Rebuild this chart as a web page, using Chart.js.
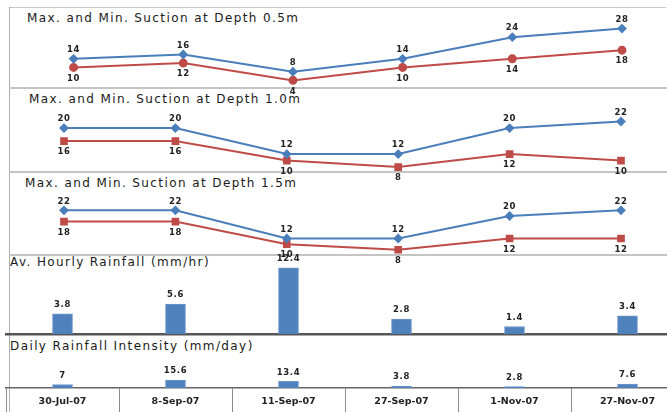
<!DOCTYPE html>
<html>
<head>
<meta charset="utf-8">
<script src="https://cdn.jsdelivr.net/npm/chart.js@4.4.1/dist/chart.umd.min.js"></script>
<style>
    html, body { margin: 0; padding: 0; background: #fff; }
    #wrap { position: relative; width: 667px; height: 412px; overflow: hidden; }
    #wrap canvas { position: absolute; left: 0; top: 0; }
    .line { position: absolute; }
    .title { position: absolute; font-family: "DejaVu Sans", sans-serif; font-size: 12px; line-height: 14px; letter-spacing: 1.4px; color: #1a1a1a; white-space: nowrap; }
</style>
</head>
<body>
<div id="wrap">
    <div class="line" style="left:9px;top:7px;width:657px;height:1px;background:#c8c8c8"></div>
    <div class="line" style="left:9px;top:7px;width:1px;height:405px;background:#b0b0b0"></div>
    <div class="line" style="left:9px;top:87px;width:658px;height:2px;background:#c4c4c4"></div>
    <div class="line" style="left:9px;top:171px;width:658px;height:2px;background:#c4c4c4"></div>
    <div class="line" style="left:9px;top:254px;width:658px;height:2px;background:#c4c4c4"></div>

    <div class="title" style="left:27px;top:11px">Max. and Min. Suction at Depth 0.5m</div>
    <div class="title" style="left:29px;top:92px">Max. and Min. Suction at Depth 1.0m</div>
    <div class="title" style="left:25px;top:176px">Max. and Min. Suction at Depth 1.5m</div>
    <div class="title" style="left:10px;top:255px">Av. Hourly Rainfall (mm/hr)</div>
    <div class="title" style="left:10px;top:339px">Daily Rainfall Intensity (mm/day)</div>

    <canvas id="depth05" width="700" height="412"></canvas>
    <canvas id="depth10" width="700" height="412"></canvas>
    <canvas id="depth15" width="700" height="412"></canvas>
    <canvas id="hourly" width="700" height="412"></canvas>
    <canvas id="daily" width="700" height="412"></canvas>
</div>
<script>
    var dates = ['30-Jul-07', '8-Sep-07', '11-Sep-07', '27-Sep-07', '1-Nov-07', '27-Nov-07'];

    var maxSuction05 = [14, 16, 8, 14, 24, 28];
    var minSuction05 = [10, 12, 4, 10, 14, 18];
    var maxSuction10 = [20, 20, 12, 12, 20, 22];
    var minSuction10 = [16, 16, 10, 8, 12, 10];
    var maxSuction15 = [22, 22, 12, 12, 20, 22];
    var minSuction15 = [18, 18, 10, 8, 12, 12];

    var hourlyRain = [3.8, 5.6, 12.4, 2.8, 1.4, 3.4];
    var dailyRain = [7, 15.6, 13.4, 3.8, 2.8, 7.6];

    var BLUE = '#4a7ebb';
    var RED = '#be4b48';
    var H = 412, W = 700;

    // draws the value of every point next to it
    var valueLabels = {
        id: 'valueLabels',
        afterDatasetsDraw: function (chart) {
            var ctx = chart.ctx;
            chart.data.datasets.forEach(function (ds, i) {
                var meta = chart.getDatasetMeta(i);
                var dy = ds.labelPos === 'below' ? 11 : -9;
                ctx.save();
                ctx.font = 'bold 8.5px "DejaVu Sans"';
                ctx.letterSpacing = '0.6px';
                ctx.fillStyle = '#222';
                ctx.textAlign = 'center';
                ctx.textBaseline = 'middle';
                meta.data.forEach(function (el, j) {
                    ctx.fillText(ds.data[j], el.x, el.y + dy);
                });
                ctx.restore();
            });
        }
    };

    function suctionChart(id, maxData, minData, minStyle, area, yMin, yMax) {
        return new Chart(document.getElementById(id), {
            type: 'line',
            data: {
                labels: dates,
                datasets: [{
                    data: maxData,
                    borderColor: BLUE,
                    backgroundColor: BLUE,
                    borderWidth: 2,
                    pointStyle: 'rectRot',
                    pointRadius: 3.5,
                    labelPos: 'above'
                }, {
                    data: minData,
                    borderColor: RED,
                    backgroundColor: RED,
                    borderWidth: 2,
                    pointStyle: minStyle,
                    pointRadius: minStyle === 'rect' ? 4 : 3.5,
                    labelPos: 'below'
                }]
            },
            options: {
                responsive: false,
                animation: false,
                layout: {
                    padding: {left: area[0], right: W - area[1], top: area[2], bottom: H - area[3]}
                },
                plugins: {legend: {display: false}, tooltip: {enabled: false}},
                scales: {
                    x: {display: false, offset: false},
                    y: {display: false, min: yMin, max: yMax}
                }
            },
            plugins: [valueLabels]
        });
    }

    suctionChart('depth05', maxSuction05, minSuction05, 'circle', [73.6, 622, 7, 89], 0, 38);
    suctionChart('depth10', maxSuction10, minSuction10, 'rect', [64, 621, 88, 172], 6.5, 32.3);
    suctionChart('depth15', maxSuction15, minSuction15, 'rect', [64, 621, 172, 255], 6.15, 35.6);

    function rainChart(id, values, area, yMax, showAxis) {
        var axisHeight = showAxis ? H - area[3] : 0;
        return new Chart(document.getElementById(id), {
            type: 'bar',
            data: {
                labels: dates,
                datasets: [{
                    data: values,
                    backgroundColor: '#4f81bd',
                    borderColor: '#6f97c9',
                    borderWidth: 1,
                    barThickness: 20,
                    labelPos: 'above'
                }]
            },
            options: {
                responsive: false,
                animation: false,
                layout: {
                    padding: {left: area[0], right: W - area[1], top: area[2], bottom: H - area[3] - axisHeight}
                },
                plugins: {legend: {display: false}, tooltip: {enabled: false}},
                scales: {
                    x: showAxis ? {
                        offset: true,
                        afterFit: function (scale) { scale.height = axisHeight; },
                        grid: {offset: true, drawOnChartArea: false, drawTicks: true, tickLength: axisHeight, color: '#8c8c8c', lineWidth: 1},
                        border: {display: true, color: '#666', width: 1.5},
                        ticks: {padding: -16, color: '#222', font: {family: 'DejaVu Sans', size: 9.5, weight: 'bold'}, maxRotation: 0}
                    } : {
                        offset: true,
                        afterFit: function (scale) { scale.height = 0; },
                        grid: {display: false},
                        border: {display: true, color: '#555', width: 2.5},
                        ticks: {display: false}
                    },
                    y: {display: false, min: 0, max: yMax}
                }
            },
            plugins: [valueLabels]
        });
    }

    rainChart('hourly', hourlyRain, [6, 684, 255, 334], 14.8, false);
    rainChart('daily', dailyRain, [6, 684, 335, 388], 106, true);
</script>
</body>
</html>
